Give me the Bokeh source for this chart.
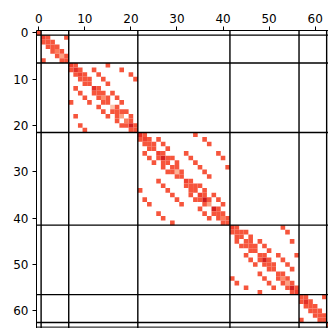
from bokeh.plotting import figure
from bokeh.models import ColumnDataSource, Range1d, FixedTicker, Span, LinearColorMapper
from bokeh.palettes import Reds256
from bokeh.embed import file_html
from bokeh.resources import INLINE

# Matrix size 64 (Fock space of 6 sites), blocks by particle number
n = 64
block_bounds = [0.5, 6.5, 21.5, 41.5, 56.5, 62.5]
ticks = [0, 10, 20, 30, 40, 50, 60]

diag = [1.0,
        1.1, 1.0, 1.0, 0.8, 0.6, 1.0,
        1.1, 1.2, 1.1, 1.0, 1.0, 1.2, 1.0, 0.7, 1.0, 0.4, 1.0, 0.6, 0.8, 1.3, 1.0,
        1.2, 1.1, 1.0, 1.0, 1.1, 1.3, 1.0, 1.0, 0.5, 1.0, 1.1, 1.0, 1.0, 1.1, 1.35, 0.6, 1.3, 1.0, 0.8, 1.0,
        1.1, 1.0, 1.0, 1.0, 1.0, 1.0, 1.0, 1.3, 1.0, 1.0, 1.0, 0.7, 0.6, 1.3, 1.1,
        1.0, 1.2, 1.0, 1.0, 1.0, 1.0,
        1.0]

# off-diagonal nonzeros (upper triangle; matrix is symmetric)
pairs_n1 = [(1, 2), (2, 3), (3, 4), (4, 5), (5, 6), (1, 6)]
pairs_n2 = [(7, 8), (7, 15), (8, 9), (8, 12), (8, 18), (9, 10), (9, 13), (9, 20),
            (10, 11), (10, 14), (10, 21), (11, 15), (12, 13), (13, 14), (13, 16),
            (14, 15), (14, 17), (15, 18), (16, 17), (17, 18), (17, 19), (18, 20),
            (19, 20), (20, 21)]
pairs_n3 = [(22, 23), (22, 34), (23, 24), (23, 26), (23, 36), (24, 25), (24, 27), (24, 37),
            (25, 28), (26, 27), (26, 32), (26, 39), (27, 28), (27, 29), (27, 33), (27, 40),
            (28, 30), (28, 34), (29, 30), (29, 35), (29, 41), (30, 31), (30, 36), (31, 37),
            (32, 33), (33, 34), (33, 35), (34, 36), (35, 36), (35, 38), (36, 37), (36, 39),
            (37, 40), (38, 39), (39, 40), (40, 41)]
pairs_n4 = [(42, 43), (42, 53), (43, 44), (43, 45), (43, 54), (44, 46), (45, 46), (45, 48),
            (45, 55), (46, 47), (46, 49), (47, 50), (48, 49), (48, 52), (48, 56), (49, 50),
            (49, 53), (50, 51), (50, 54), (51, 55), (52, 53), (53, 54), (54, 55), (55, 56)]
pairs_n5 = [(57, 58), (58, 59), (59, 60), (60, 61), (61, 62), (57, 62)]
hopping = 1.0

xs, ys, vs = [], [], []
for i, d in enumerate(diag):
    xs.append(i); ys.append(i); vs.append(d)
for plist in (pairs_n1, pairs_n2, pairs_n3, pairs_n4, pairs_n5):
    for (a, b) in plist:
        xs += [b, a]; ys += [a, b]; vs += [hopping, hopping]

src = ColumnDataSource(dict(x=xs, y=ys, v=vs))

p = figure(width=328, height=328, output_backend="svg", toolbar_location=None,
           x_axis_location="above",
           x_range=Range1d(-0.5, 62.9), y_range=Range1d(63.8, -0.5),
           min_border_left=36, min_border_top=30, min_border_right=0, min_border_bottom=0)
p.outline_line_color = None
p.grid.visible = False
p.background_fill_color = "white"
p.border_fill_color = "white"

mapper = LinearColorMapper(palette=list(reversed(Reds256)), low=0.0, high=1.8)
p.rect(x="x", y="y", width=1, height=1, source=src,
       fill_color={"field": "v", "transform": mapper}, line_color=None)

for b in block_bounds:
    p.add_layout(Span(location=b, dimension="width", line_color="black", line_width=1.4))
    p.add_layout(Span(location=b, dimension="height", line_color="black", line_width=1.4))
# bottom spine
p.add_layout(Span(location=n - 0.5, dimension="width", line_color="black", line_width=1))

for ax in (p.xaxis[0], p.yaxis[0]):
    ax.ticker = FixedTicker(ticks=ticks)
    ax.minor_tick_line_color = None
    ax.major_tick_out = 4
    ax.major_tick_in = 0
    ax.major_tick_line_color = "black"
    ax.axis_line_color = "black"
    ax.axis_line_width = 1
    ax.major_label_text_font = "DejaVu Sans"
    ax.major_label_text_font_size = "12px"
    ax.major_label_text_color = "black"
    ax.major_label_standoff = 4

open("out.html", "w").write(file_html(p, INLINE))
